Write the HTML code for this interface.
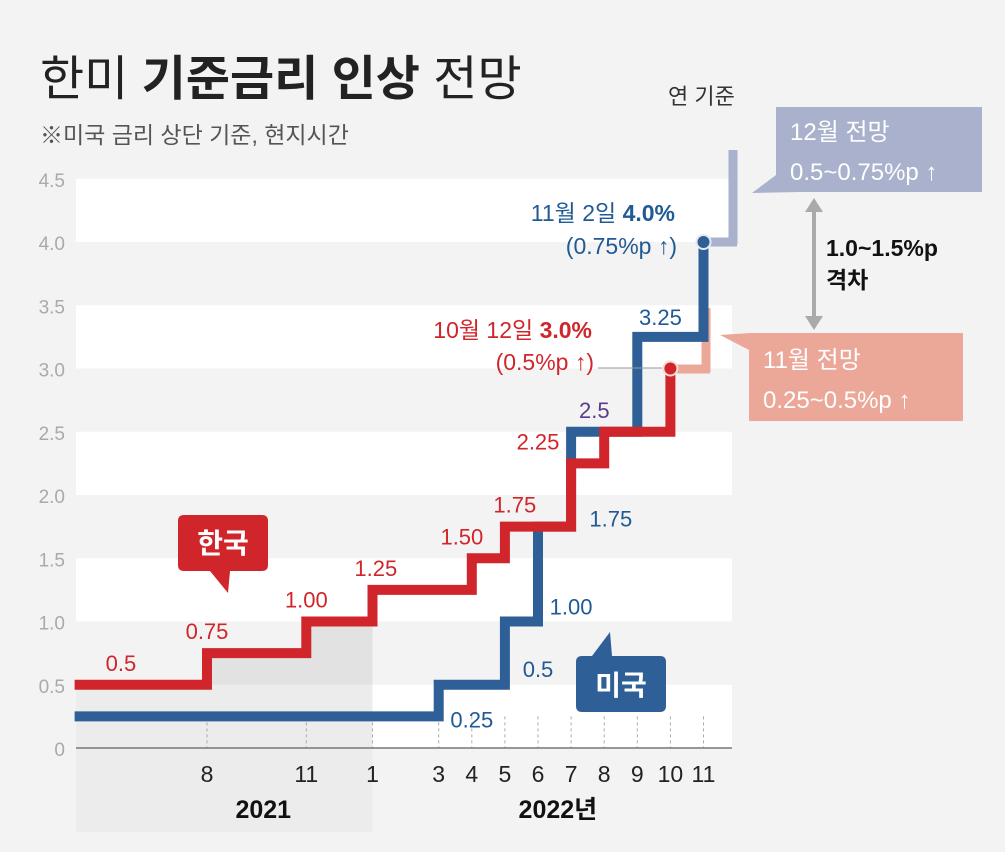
<!DOCTYPE html>
<html><head><meta charset="utf-8"><style>
html,body{margin:0;padding:0;background:#f3f3f3}
svg{display:block}
text{font-family:"Liberation Sans","Noto Sans CJK KR",sans-serif}
</style></head><body>
<svg id="c" width="1005" height="852" viewBox="0 0 1005 852">
<rect x="0" y="0" width="1005" height="852" fill="#f3f3f3"/>
<text x="40" y="95" font-size="48" fill="#222">한미 <tspan font-weight="bold">기준금리 인상</tspan> 전망</text>
<text x="40" y="143" font-size="23" fill="#555">※미국 금리 상단 기준, 현지시간</text>
<text x="668" y="104" font-size="22" fill="#333">연 기준</text>
<g id="bands"></g>
<g id="shade"></g>
<g id="grid"></g>
<g id="axis"></g>
<line x1="733" y1="150" x2="733" y2="244" stroke="#a9b1cc" stroke-width="9"/>
<line x1="702" y1="242" x2="737" y2="242" stroke="#a9b1cc" stroke-width="9"/>
<line x1="706" y1="308" x2="706" y2="372" stroke="#eba899" stroke-width="9"/>
<line x1="668" y1="369" x2="710" y2="369" stroke="#eba899" stroke-width="9"/>
<g id="series"></g>
<g id="labels"></g>
<path d="M776 107 H982 V192 H800 L752 193 L776 175 Z" fill="#a9b1cc"/>
<text x="790" y="140" font-size="24" fill="#fff">12월 전망</text>
<text x="790" y="180" font-size="24" fill="#fff">0.5~0.75%p ↑</text>
<path d="M750 333 H963 V421 H749 V350 L720 335 Z" fill="#eba899"/>
<text x="763" y="368" font-size="24" fill="#fff">11월 전망</text>
<text x="763" y="408" font-size="24" fill="#fff">0.25~0.5%p ↑</text>
<line x1="814" y1="210" x2="814" y2="318" stroke="#aaa" stroke-width="4"/>
<path d="M805 212 L814 198 L823 212 Z M805 316 L814 330 L823 316 Z" fill="#aaa"/>
<text x="826" y="256" font-size="23" font-weight="bold" fill="#111">1.0~1.5%p</text>
<text x="826" y="288" font-size="23" font-weight="bold" fill="#111">격차</text>
<text x="675" y="221" text-anchor="end" font-size="23" fill="#1f5a94">11월 2일 <tspan font-weight="bold">4.0%</tspan></text>
<text x="677" y="254" text-anchor="end" font-size="23" fill="#1f5a94">(0.75%p ↑)</text>
<text x="592" y="338" text-anchor="end" font-size="23" fill="#d0262b">10월 12일 <tspan font-weight="bold">3.0%</tspan></text>
<text x="594" y="370" text-anchor="end" font-size="23" fill="#d0262b">(0.5%p ↑)</text>
<line x1="598" y1="368" x2="662" y2="368" stroke="#999" stroke-width="1"/>
<path d="M178 515 H262 Q268 515 268 521 V565 Q268 571 262 571 H230 L228 593 L210 571 H184 Q178 571 178 565 V521 Q178 515 184 515 Z" fill="#d0262b"/>
<text x="223" y="553" text-anchor="middle" font-size="28" font-weight="bold" fill="#fff">한국</text>
<path d="M612 656 H660 Q666 656 666 662 V706 Q666 712 660 712 H582 Q576 712 576 706 V662 Q576 656 582 656 H592 L610 632 Z" fill="#2e5f96"/>
<text x="621" y="695" text-anchor="middle" font-size="28" font-weight="bold" fill="#fff">미국</text>
</svg>
<script>
const yTicks=[0,0.5,1.0,1.5,2.0,2.5,3.0,3.5,4.0,4.5];
const tickMonths=[19,22,24,26,27,28,29,30,31,32,33,34];
const tickLabels=["8","11","1","3","4","5","6","7","8","9","10","11"];
const krMonths=[15,19,22,24,27,28,30,31,33,33];
const krRates=[0.5,0.75,1.0,1.25,1.5,1.75,2.25,2.5,2.5,3.0];
const usMonths=[15,26,28,29,30,32,34,34];
const usRates=[0.25,0.5,1.0,1.75,2.5,3.25,3.25,4.0];
const krLabels=["0.5","0.75","1.00","1.25","1.50","1.75","2.25"];
const krLabelRates=[0.5,0.75,1.0,1.25,1.5,1.75,2.25];
const usLabels=["0.25","0.5","1.00","1.75","2.5","3.25"];
const usLabelRates=[0.25,0.5,1.0,1.75,2.5,3.25];
const krLabelM=[16.4,19,22,24.1,26.7,28.3,29.0];
const usLabelM=[27.0,29.0,30.0,31.2,30.7,32.7];
const usLabelDy=[11,-8,-7,0,-14,-12];
const NS="http://www.w3.org/2000/svg";
const X=m=>207+(m-19)*33.1;
const Y=v=>748-v*126.5;
const x0=76,x1=732;
function mk(tag,attrs,parent){const e=document.createElementNS(NS,tag);for(const k in attrs)e.setAttribute(k,attrs[k]);document.getElementById(parent).appendChild(e);return e;}
for(let i=0;i<yTicks.length-1;i+=2){
 const r=mk('rect',{x:x0,y:Y(yTicks[i+1]),width:x1-x0,height:Y(yTicks[i])-Y(yTicks[i+1]),fill:'#ffffff'},'bands');
 
 
}
let s=mk('rect',{x:x0,y:Y(0.5),width:X(24)-x0,height:832-Y(0.5),fill:'#ececec'},'shade');


let sp=mk('path',{d:`M${X(19)} ${Y(0.75)} H${X(22)} V${Y(1.0)} H${X(24)} V${Y(0.5)} H${X(19)} Z`,fill:'#e2e2e2'},'shade');


yTicks.forEach(v=>{const t=mk('text',{x:65,y:Y(v)+8,'text-anchor':'end','font-size':19,fill:'#aaa'},'axis');t.textContent=v===0?'0':v.toFixed(1);
 
 });
tickMonths.forEach((m,i)=>{
 const l=mk('line',{x1:X(m),x2:X(m),y1:Y(0.25),y2:748,stroke:'#aaa','stroke-dasharray':'3,3','stroke-width':1},'grid');
 
 
 const t=mk('text',{x:X(m),y:782,'text-anchor':'middle','font-size':23,fill:'#222'},'axis');t.textContent=tickLabels[i];
 
 
});
let ax=mk('line',{x1:x0,x2:x1,y1:748,y2:748,stroke:'#777','stroke-width':1.5},'axis');


let y1=mk('text',{x:X(20.7),y:818,'text-anchor':'middle','font-size':25,'font-weight':'bold',fill:'#111'},'axis');y1.textContent='2021';


let y2=mk('text',{x:X(29.6),y:818,'text-anchor':'middle','font-size':25,'font-weight':'bold',fill:'#111'},'axis');y2.textContent='2022년';


function stepPath(ms,rs){let d=`M${X(ms[0])} ${Y(rs[0])}`;for(let i=1;i<ms.length;i++){d+=` H${X(ms[i])} V${Y(rs[i])}`;}return d;}
let us=mk('path',{d:stepPath(usMonths,usRates),fill:'none',stroke:'#2e5f96','stroke-width':10,'stroke-linejoin':'miter'},'series');


let kr=mk('path',{d:stepPath(krMonths,krRates),fill:'none',stroke:'#d0262b','stroke-width':10,'stroke-linejoin':'miter'},'series');


let ud=mk('circle',{cx:X(usMonths[usMonths.length-1]),cy:Y(usRates[usRates.length-1]),r:7,fill:'#2e5f96',stroke:'#e8e8f0','stroke-width':2},'series');


let kd=mk('circle',{cx:X(krMonths[krMonths.length-1]),cy:Y(krRates[krRates.length-1]),r:7,fill:'#d0262b',stroke:'#f5dcd5','stroke-width':2},'series');


krLabels.forEach((lab,i)=>{
 const t=mk('text',{x:X(krLabelM[i]),y:Y(krLabelRates[i])-14,'text-anchor':'middle','font-size':22,fill:'#d0262b'},'labels');t.textContent=lab;
 
 });
usLabels.forEach((lab,i)=>{
 const t=mk('text',{x:X(usLabelM[i]),y:Y(usLabelRates[i])+usLabelDy[i],'text-anchor':'middle','font-size':22,fill:i===4?'#5b3a8c':'#1f5a94'},'labels');t.textContent=lab;
 
 });
</script>
</body></html>
